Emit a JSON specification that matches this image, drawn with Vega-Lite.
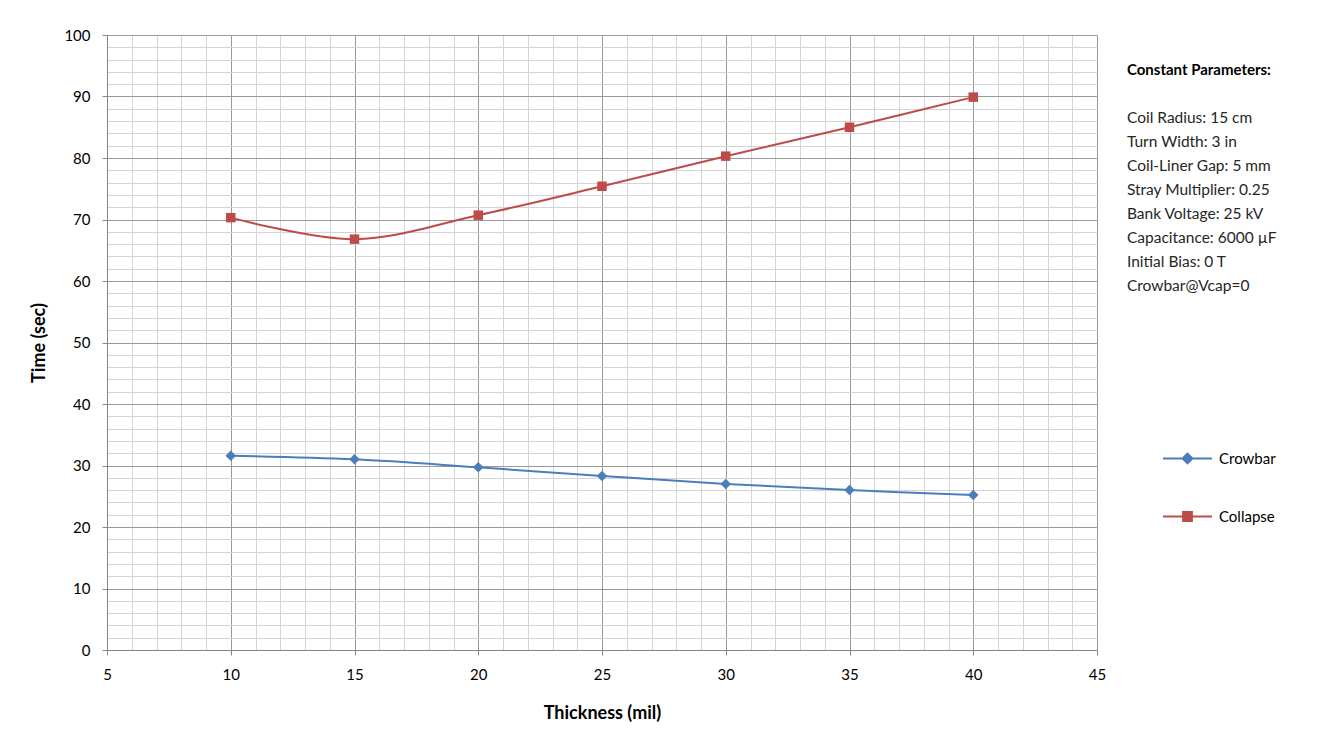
{
  "$schema": "https://vega.github.io/schema/vega-lite/v6.json",
  "width": 990,
  "height": 615,
  "autosize": {"type": "none"},
  "padding": {"left": 107, "top": 35, "right": 243, "bottom": 101},
  "background": "white",
  "config": {
    "font": "Lato",
    "view": {"stroke": null},
    "axis": {"labelFont": "Lato", "titleFont": "Lato", "labelColor": "#000000", "titleColor": "#000000", "labelFlush": false}
  },
  "datasets": {
    "series": [
      {"thickness": 10, "time": 31.6, "series": "Crowbar"},
      {"thickness": 15, "time": 31.0, "series": "Crowbar"},
      {"thickness": 20, "time": 29.7, "series": "Crowbar"},
      {"thickness": 25, "time": 28.3, "series": "Crowbar"},
      {"thickness": 30, "time": 27.0, "series": "Crowbar"},
      {"thickness": 35, "time": 26.0, "series": "Crowbar"},
      {"thickness": 40, "time": 25.2, "series": "Crowbar"},
      {"thickness": 10, "time": 70.3, "series": "Collapse"},
      {"thickness": 15, "time": 66.8, "series": "Collapse"},
      {"thickness": 20, "time": 70.7, "series": "Collapse"},
      {"thickness": 25, "time": 75.4, "series": "Collapse"},
      {"thickness": 30, "time": 80.3, "series": "Collapse"},
      {"thickness": 35, "time": 85.0, "series": "Collapse"},
      {"thickness": 40, "time": 89.9, "series": "Collapse"}
    ],
    "notes": [
      {"header": "Constant Parameters:", "body": "Coil Radius: 15 cm\nTurn Width: 3 in\nCoil-Liner Gap: 5 mm\nStray Multiplier: 0.25\nBank Voltage: 25 kV\nCapacitance: 6000 µF\nInitial Bias: 0 T\nCrowbar@Vcap=0"}
    ]
  },
  "resolve": {"axis": {"x": "independent", "y": "independent"}},
  "layer": [
    {
      "data": {"name": "series"},
      "mark": {"type": "point", "opacity": 0},
      "encoding": {
        "x": {"field": "thickness", "type": "quantitative", "scale": {"domain": [5, 45], "nice": false, "zero": false},
          "axis": {"orient": "bottom", "values": [5,6,7,8,9,10,11,12,13,14,15,16,17,18,19,20,21,22,23,24,25,26,27,28,29,30,31,32,33,34,35,36,37,38,39,40,41,42,43,44,45],
            "grid": true, "gridColor": "#d4d4d4", "gridWidth": 1, "labels": false, "ticks": false, "domain": false, "title": null, "zindex": 0}},
        "y": {"field": "time", "type": "quantitative", "scale": {"domain": [0, 100], "nice": false, "zero": true},
          "axis": {"orient": "left", "values": [0,2,4,6,8,10,12,14,16,18,20,22,24,26,28,30,32,34,36,38,40,42,44,46,48,50,52,54,56,58,60,62,64,66,68,70,72,74,76,78,80,82,84,86,88,90,92,94,96,98,100],
            "grid": true, "gridColor": "#d4d4d4", "gridWidth": 1, "labels": false, "ticks": false, "domain": false, "title": null, "zindex": 0}}
      }
    },
    {
      "data": {"name": "series"},
      "mark": {"type": "point", "opacity": 0},
      "encoding": {
        "x": {"field": "thickness", "type": "quantitative",
          "axis": {"orient": "bottom", "values": [5,10,15,20,25,30,35,40,45], "grid": true, "gridColor": "#999999", "gridWidth": 1,
            "domainColor": "#868686", "tickColor": "#868686", "tickSize": 5, "labelFontSize": 15, "labelPadding": 12,
            "title": "Thickness (mil)", "titleFontSize": 18, "titleFontWeight": "bold", "titlePadding": 22, "zindex": 0}},
        "y": {"field": "time", "type": "quantitative",
          "axis": {"orient": "left", "values": [0,10,20,30,40,50,60,70,80,90,100], "grid": true, "gridColor": "#999999", "gridWidth": 1,
            "domainColor": "#868686", "tickColor": "#868686", "tickSize": 5, "labelFontSize": 15, "labelPadding": 12,
            "title": "Time (sec)", "titleFontSize": 18, "titleFontWeight": "bold", "titlePadding": 15, "zindex": 0}}
      }
    },
    {
      "data": {"name": "series"},
      "transform": [{"filter": "datum.series === 'Crowbar'"}],
      "mark": {"type": "line", "interpolate": "catmull-rom", "strokeWidth": 2, "color": "#4a7ebb"},
      "encoding": {
        "x": {"field": "thickness", "type": "quantitative", "axis": null},
        "y": {"field": "time", "type": "quantitative", "axis": null}
      }
    },
    {
      "data": {"name": "series"},
      "transform": [{"filter": "datum.series === 'Collapse'"}],
      "mark": {"type": "line", "interpolate": "catmull-rom", "strokeWidth": 2, "color": "#be4b48"},
      "encoding": {
        "x": {"field": "thickness", "type": "quantitative", "axis": null},
        "y": {"field": "time", "type": "quantitative", "axis": null}
      }
    },
    {
      "data": {"name": "series"},
      "transform": [{"filter": "datum.series === 'Crowbar'"}],
      "mark": {"type": "point", "shape": "diamond", "filled": true, "opacity": 1, "size": 110, "color": "#4a7ebb"},
      "encoding": {
        "x": {"field": "thickness", "type": "quantitative", "axis": null},
        "y": {"field": "time", "type": "quantitative", "axis": null}
      }
    },
    {
      "data": {"name": "series"},
      "transform": [{"filter": "datum.series === 'Collapse'"}],
      "mark": {"type": "point", "shape": "square", "filled": true, "opacity": 1, "size": 90, "color": "#be4b48"},
      "encoding": {
        "x": {"field": "thickness", "type": "quantitative", "axis": null},
        "y": {"field": "time", "type": "quantitative", "axis": null}
      }
    },
    {
      "data": {"name": "series"},
      "mark": {"type": "point", "filled": true, "opacity": 0},
      "encoding": {
        "x": {"field": "thickness", "type": "quantitative", "axis": null},
        "y": {"field": "time", "type": "quantitative", "axis": null},
        "color": {"field": "series", "type": "nominal", "scale": {"domain": ["Crowbar", "Collapse"], "range": ["#4a7ebb", "#be4b48"]},
          "legend": {"orient": "none", "legendX": 1055, "legendY": 398, "title": null,
            "symbolSize": 2401, "symbolStrokeWidth": 2, "labelFontSize": 15, "labelFont": "Lato", "labelColor": "#000000",
            "labelOffset": 6, "rowPadding": 23, "columnPadding": 0,
            "encode": {"symbols": {"update": {"opacity": {"value": 1}, "fillOpacity": {"value": 1}, "strokeOpacity": {"value": 1},
              "stroke": {"scale": "color", "field": "value"}, "fill": {"scale": "color", "field": "value"}}}}}},
        "shape": {"field": "series", "type": "nominal",
          "scale": {"domain": ["Crowbar", "Collapse"], "range": ["M-1,0H1M-0.2,0L0,-0.2L0.2,0L0,0.2Z", "M-1,0H1M-0.18,-0.18H0.18V0.18H-0.18Z"]}}
      }
    },
    {
      "data": {"name": "notes"},
      "mark": {"type": "text", "align": "left", "baseline": "middle", "fontSize": 15, "fontWeight": "bold", "font": "Lato", "clip": false, "color": "#000000"},
      "encoding": {
        "x": {"datum": 46.21, "type": "quantitative", "axis": null},
        "y": {"datum": 94.3, "type": "quantitative", "axis": null},
        "text": {"field": "header"}
      }
    },
    {
      "data": {"name": "notes"},
      "mark": {"type": "text", "align": "left", "baseline": "middle", "fontSize": 15.5, "font": "Lato", "lineBreak": "\n", "lineHeight": 24, "clip": false, "color": "#262626"},
      "encoding": {
        "x": {"datum": 46.21, "type": "quantitative", "axis": null},
        "y": {"datum": 86.5, "type": "quantitative", "axis": null},
        "text": {"field": "body"}
      }
    }
  ]
}
